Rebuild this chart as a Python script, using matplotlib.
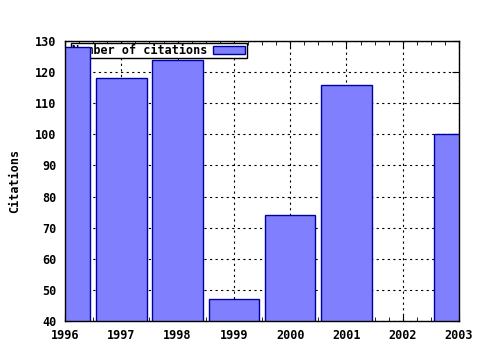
import matplotlib
matplotlib.use("Agg")
import matplotlib.pyplot as plt
from matplotlib.ticker import MultipleLocator

years = [1996, 1997, 1998, 1999, 2000, 2001, 2002, 2003]
citations = [128, 118, 124, 47, 74, 116, 0, 100]

plt.rcParams['font.family'] = 'DejaVu Sans Mono'
plt.rcParams['font.weight'] = 'bold'
plt.rcParams['font.size'] = 8.5

fig = plt.figure(figsize=(4.8, 3.5), dpi=100)
ax = fig.add_axes([65 / 480, 29 / 350, 394 / 480, 280 / 350])

bars = ax.bar(years, citations, width=0.9, color='#8080ff', edgecolor='#0000a0',
              linewidth=1, zorder=3, label='Number of citations')

ax.set_xlim(1996, 2003)
ax.set_ylim(40, 130)
ax.set_xticks(years)
ax.xaxis.set_minor_locator(MultipleLocator(0.25))
ax.yaxis.set_major_locator(MultipleLocator(10))
ax.tick_params(which='both', direction='in', top=True, right=True, pad=6)
ax.tick_params(which='major', length=5)
ax.tick_params(which='minor', length=3)
for lab in ax.get_xticklabels() + ax.get_yticklabels():
    lab.set_fontweight('bold')
ax.grid(True, which='major', color='black', linestyle=(0, (2, 3)), linewidth=0.8, zorder=0)
ax.set_axisbelow(True)
for s in ax.spines.values():
    s.set_linewidth(1)
    s.set_zorder(4)

ax.set_ylabel('Citations', labelpad=10, fontweight='bold')

leg = ax.legend(loc='upper left', bbox_to_anchor=(6 / 394, 1 - 2 / 280), markerfirst=False,
                fancybox=False, framealpha=1, edgecolor='black', borderpad=0.1,
                handlelength=2.7, handleheight=0.7, handletextpad=0.5,
                borderaxespad=0, prop={'size': 8.5, 'weight': 'bold'})
leg.get_frame().set_linewidth(1)
leg.set_zorder(2)

fig.savefig('out.png', dpi=100)
